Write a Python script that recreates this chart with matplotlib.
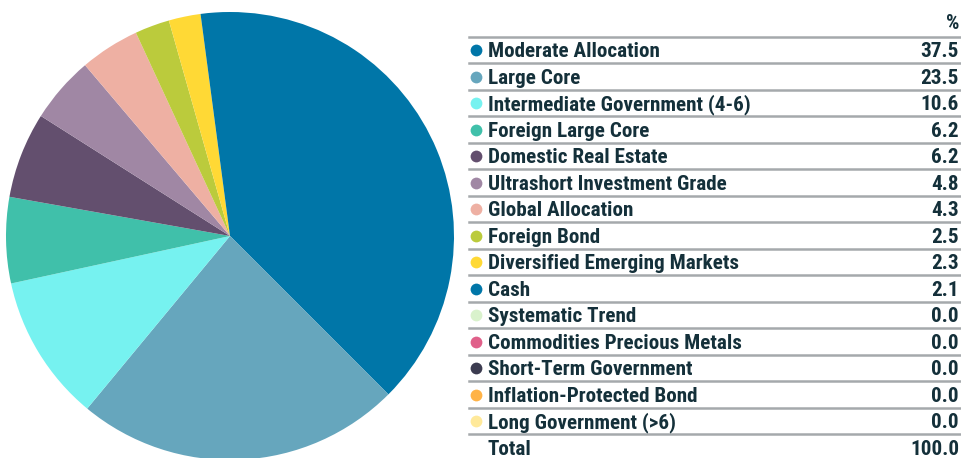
import matplotlib.pyplot as plt
from matplotlib import font_manager

categories = [
    "Moderate Allocation", "Large Core", "Intermediate Government (4-6)",
    "Foreign Large Core", "Domestic Real Estate", "Ultrashort Investment Grade",
    "Global Allocation", "Foreign Bond", "Diversified Emerging Markets", "Cash",
    "Systematic Trend", "Commodities Precious Metals", "Short-Term Government",
    "Inflation-Protected Bond", "Long Government (>6)",
]
weights = [37.5, 23.5, 10.6, 6.2, 6.2, 4.8, 4.3, 2.5, 2.3, 2.1,
           0.0, 0.0, 0.0, 0.0, 0.0]
colors = [
    "#0076a8", "#66a6bd", "#76f2f0", "#40c0aa", "#634f6e", "#a087a4",
    "#eeb0a3", "#bbcb3c", "#ffd935", "#0076a8", "#d9f2cc", "#e0608a",
    "#3c3c50", "#ffb347", "#ffe99a",
]
total_label = "Total"
total_value = 100.0

# pick a bold condensed face if one is installed
names = {f.name for f in font_manager.fontManager.ttflist}
family = "DejaVu Sans"
for cand in ["Roboto Condensed", "Fira Sans Condensed", "Archivo Narrow",
             "Barlow Semi Condensed", "Asap Condensed", "Liberation Sans Narrow"]:
    if cand in names:
        family = cand
        break
text_color = "#14303a"
line_color = "#a5a9ac"

W, H = 961, 458
fig = plt.figure(figsize=(W / 100, H / 100), dpi=100)

# pie, clockwise from 12 o'clock
cx, cy, r = 230, 236, 224
pie_ax = fig.add_axes([(cx - r) / W, (H - cy - r) / H, 2 * r / W, 2 * r / H])
nonzero = [(w, c) for w, c in zip(weights, colors) if w > 0]
pie_ax.pie([w for w, _ in nonzero], colors=[c for _, c in nonzero],
           startangle=90, counterclock=False, radius=1,
           wedgeprops=dict(linewidth=0))
pie_ax.set_xlim(-1, 1)
pie_ax.set_ylim(-1, 1)
pie_ax.axis("off")

# table of holdings on the right, drawn in pixel coordinates
tab = fig.add_axes([0, 0, 1, 1])
tab.set_xlim(0, W)
tab.set_ylim(H, 0)
tab.axis("off")

x0, x1 = 469, 960
row_h = 26.5
top = 36.8
fs = 15.2
txt = dict(fontsize=fs, fontweight="heavy", family=family, color=text_color,
           va="baseline")

def row_text(yc, left, right):
    tab.text(488, yc + 7, left, ha="left", **txt)
    tab.text(x1 - 1, yc + 7, right, ha="right", **txt)

tab.text(x1 - 1, 29, "%", ha="right", **txt)
tab.plot([x0, x1], [top, top], color=line_color, lw=1.8)

for i, (name, val, col) in enumerate(zip(categories, weights, colors)):
    yc = top + row_h * (i + 0.5)
    tab.scatter([476], [yc], s=72, color=col, linewidths=0)
    row_text(yc, name, f"{val:.1f}")
    yl = top + row_h * (i + 1)
    tab.plot([x0, x1], [yl, yl], color=line_color, lw=1.8)

row_text(top + row_h * (len(categories) + 0.5), total_label, f"{total_value:.1f}")

fig.savefig("out.png", dpi=100)
